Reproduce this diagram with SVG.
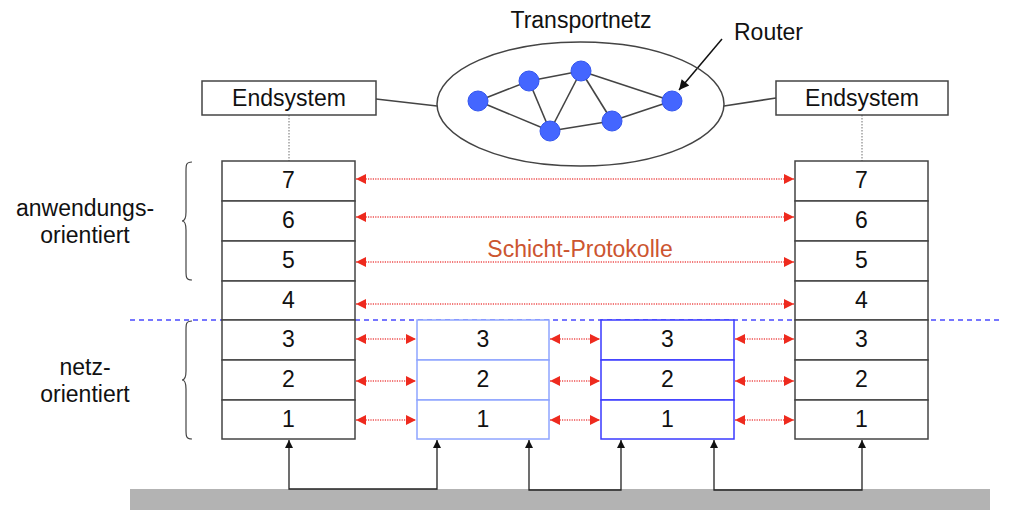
<svg xmlns="http://www.w3.org/2000/svg" width="1010" height="524" viewBox="0 0 1010 524">
<defs>
<style>
text{font-family:"Liberation Sans",Arial,sans-serif;font-size:23px;fill:#111;}
.c{text-anchor:middle;}
.box{fill:#fff;stroke:#444;stroke-width:1.5;}
.row{fill:#fff;stroke:#444;stroke-width:1.5;}
.lb{fill:#fff;stroke:#8fa5ff;stroke-width:1.5;}
.db{fill:#fff;stroke:#3a3aff;stroke-width:1.5;}
.proto{stroke:#f27a7a;stroke-width:1.8;stroke-dasharray:1.2,1.2;fill:none;marker-start:url(#ra);marker-end:url(#ra);}
.up{stroke:#222;stroke-width:1.3;fill:none;marker-start:url(#ba);marker-end:url(#ba);}
.link{stroke:#444;stroke-width:1.6;fill:none;}
.node{fill:#4466ff;stroke:#3355ee;stroke-width:1;}
</style>
<marker id="ra" viewBox="0 0 10 10" refX="10" refY="5" markerWidth="11" markerHeight="10" markerUnits="userSpaceOnUse" orient="auto-start-reverse"><path d="M0,0 L10,5 L0,10 z" fill="#ee2a1e"/></marker>
<marker id="ba" viewBox="0 0 10 10" refX="10" refY="5" markerWidth="10" markerHeight="8" markerUnits="userSpaceOnUse" orient="auto-start-reverse"><path d="M0,0 L10,5 L0,10 z" fill="#111"/></marker>
<marker id="bk" viewBox="0 0 10 10" refX="10" refY="5" markerWidth="13" markerHeight="10" markerUnits="userSpaceOnUse" orient="auto"><path d="M0,0 L10,5 L0,10 z" fill="#111"/></marker>
</defs>
<rect width="1010" height="524" fill="#fff"/>

<g id="ground"><rect x="130" y="489" width="860" height="21" fill="#b3b3b3"/></g>

<g id="separator"><line x1="130" y1="320" x2="1000" y2="320" stroke="#4a4aff" stroke-width="1.3" stroke-dasharray="5,4"/></g>

<g id="labels">
<text class="c" x="85" y="216">anwendungs-</text>
<text class="c" x="85" y="243">orientiert</text>
<text class="c" x="85" y="375">netz-</text>
<text class="c" x="85" y="402">orientiert</text>
<path d="M192,162 C186,162 186,165 186,171 L186,212 C186,218 185,221 182,221 C185,221 186,224 186,230 L186,271 C186,277 186,280 192,280" stroke="#444" stroke-width="1.2" fill="none"/>
<path d="M192,321 C186,321 186,324 186,330 L186,371 C186,377 185,380 182,380 C185,380 186,383 186,389 L186,430 C186,436 186,439 192,439" stroke="#444" stroke-width="1.2" fill="none"/>
</g>

<g id="connectors">
<line x1="376" y1="99" x2="437" y2="106" class="link"/>
<line x1="724" y1="106" x2="776" y2="98" class="link"/>
<line x1="289" y1="115" x2="289" y2="161" stroke="#888" stroke-width="1.2" stroke-dasharray="1.5,1.5"/>
<line x1="862" y1="115" x2="862" y2="161" stroke="#888" stroke-width="1.2" stroke-dasharray="1.5,1.5"/>
<line x1="722" y1="39" x2="679" y2="90" stroke="#111" stroke-width="1.5" marker-end="url(#bk)"/>
<line class="proto" x1="356" y1="179" x2="794" y2="179"/>
<line class="proto" x1="356" y1="217" x2="794" y2="217"/>
<line class="proto" x1="356" y1="262" x2="794" y2="262"/>
<line class="proto" x1="356" y1="304" x2="794" y2="304"/>
<line class="proto" x1="356" y1="339" x2="416" y2="339"/>
<line class="proto" x1="356" y1="381" x2="416" y2="381"/>
<line class="proto" x1="356" y1="420" x2="416" y2="420"/>
<line class="proto" x1="550" y1="339" x2="600" y2="339"/>
<line class="proto" x1="550" y1="381" x2="600" y2="381"/>
<line class="proto" x1="550" y1="420" x2="600" y2="420"/>
<line class="proto" x1="735" y1="339" x2="794" y2="339"/>
<line class="proto" x1="735" y1="381" x2="794" y2="381"/>
<line class="proto" x1="735" y1="420" x2="794" y2="420"/>
<path class="up" d="M289,440 V489 H437 V440"/>
<path class="up" d="M529,440 V490 H621 V440"/>
<path class="up" d="M714,440 V490 H862 V440"/>
</g>

<text class="c" x="580" y="257" style="fill:#cc5530">Schicht-Protokolle</text>

<g id="transportnetz">
<text class="c" x="581" y="28">Transportnetz</text>
<ellipse cx="580.5" cy="104" rx="143.5" ry="62" fill="none" stroke="#444" stroke-width="1.5"/>
<g class="link">
<line x1="478" y1="101" x2="529" y2="81"/>
<line x1="529" y1="81" x2="581" y2="71"/>
<line x1="478" y1="101" x2="550" y2="131"/>
<line x1="529" y1="81" x2="550" y2="131"/>
<line x1="581" y1="71" x2="550" y2="131"/>
<line x1="581" y1="71" x2="612" y2="121"/>
<line x1="581" y1="71" x2="672" y2="101"/>
<line x1="550" y1="131" x2="612" y2="121"/>
<line x1="612" y1="121" x2="672" y2="101"/>
</g>
<circle class="node" cx="478" cy="101" r="10"/>
<circle class="node" cx="529" cy="81" r="10"/>
<circle class="node" cx="581" cy="71" r="10"/>
<circle class="node" cx="550" cy="131" r="10"/>
<circle class="node" cx="612" cy="121" r="10"/>
<circle class="node" cx="672" cy="101" r="10"/>
</g>
<g id="router-label"><text x="734" y="40">Router</text></g>

<g id="endsystem-left">
<rect class="box" x="202" y="81" width="174" height="34"/>
<text class="c" x="289" y="106">Endsystem</text>
</g>
<g id="endsystem-right">
<rect class="box" x="776" y="81" width="172" height="34"/>
<text class="c" x="862" y="106">Endsystem</text>
</g>

<g id="stack-left">
<rect class="row" x="222" y="161" width="133" height="40"/><text class="c" x="288.5" y="188">7</text>
<rect class="row" x="222" y="201" width="133" height="40"/><text class="c" x="288.5" y="228">6</text>
<rect class="row" x="222" y="241" width="133" height="40"/><text class="c" x="288.5" y="268">5</text>
<rect class="row" x="222" y="281" width="133" height="39"/><text class="c" x="288.5" y="308">4</text>
<rect class="row" x="222" y="320" width="133" height="40"/><text class="c" x="288.5" y="347">3</text>
<rect class="row" x="222" y="360" width="133" height="40"/><text class="c" x="288.5" y="387">2</text>
<rect class="row" x="222" y="400" width="133" height="39"/><text class="c" x="288.5" y="427">1</text>
</g>

<g id="stack-mid1">
<rect class="lb" x="417" y="320" width="132" height="40"/><text class="c" x="483" y="347">3</text>
<rect class="lb" x="417" y="360" width="132" height="40"/><text class="c" x="483" y="387">2</text>
<rect class="lb" x="417" y="400" width="132" height="39"/><text class="c" x="483" y="427">1</text>
</g>

<g id="stack-mid2">
<rect class="db" x="601" y="320" width="133" height="40"/><text class="c" x="667.5" y="347">3</text>
<rect class="db" x="601" y="360" width="133" height="40"/><text class="c" x="667.5" y="387">2</text>
<rect class="db" x="601" y="400" width="133" height="39"/><text class="c" x="667.5" y="427">1</text>
</g>

<g id="stack-right">
<rect class="row" x="795" y="161" width="133" height="40"/><text class="c" x="861.5" y="188">7</text>
<rect class="row" x="795" y="201" width="133" height="40"/><text class="c" x="861.5" y="228">6</text>
<rect class="row" x="795" y="241" width="133" height="40"/><text class="c" x="861.5" y="268">5</text>
<rect class="row" x="795" y="281" width="133" height="39"/><text class="c" x="861.5" y="308">4</text>
<rect class="row" x="795" y="320" width="133" height="40"/><text class="c" x="861.5" y="347">3</text>
<rect class="row" x="795" y="360" width="133" height="40"/><text class="c" x="861.5" y="387">2</text>
<rect class="row" x="795" y="400" width="133" height="39"/><text class="c" x="861.5" y="427">1</text>
</g>
</svg>
